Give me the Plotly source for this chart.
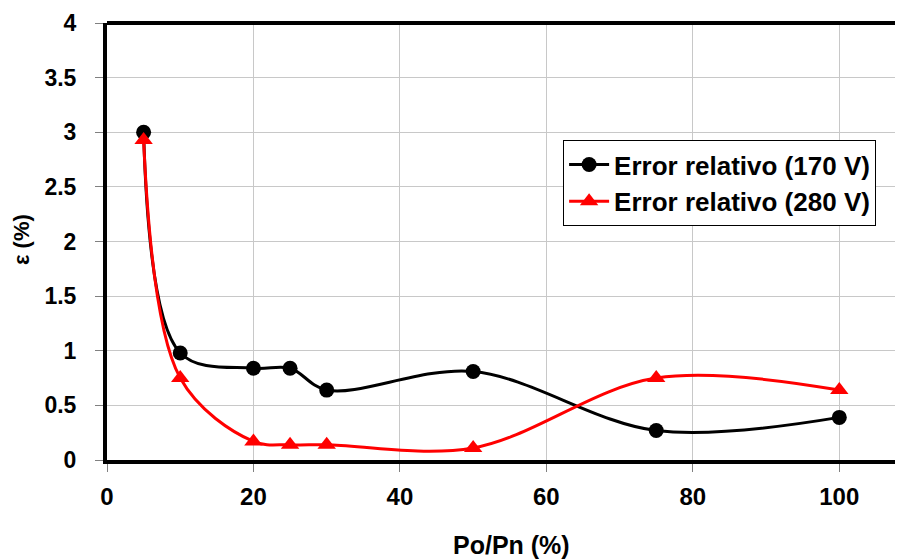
import plotly.graph_objects as go

x_vals = [5, 10, 20, 25, 30, 50, 75, 100]
err_170 = [3.0, 0.98, 0.84, 0.84, 0.64, 0.81, 0.27, 0.39]
err_280 = [2.93, 0.75, 0.17, 0.14, 0.14, 0.11, 0.75, 0.64]
x_ticks = [0, 20, 40, 60, 80, 100]
y_ticks = [0, 0.5, 1, 1.5, 2, 2.5, 3, 3.5, 4]
y_labels = ["0", "0.5", "1", "1.5", "2", "2.5", "3", "3.5", "4"]

font = "Liberation Sans, Arial, sans-serif"

fig = go.Figure()
fig.add_trace(go.Scatter(
    x=x_vals, y=err_170, name="<b>Error relativo (170 V)</b>",
    mode="lines+markers",
    line=dict(color="black", width=3, shape="spline", smoothing=1),
    marker=dict(symbol="circle", size=15, color="black"),
))
fig.add_trace(go.Scatter(
    x=x_vals, y=err_280, name="<b>Error relativo (280 V)</b>",
    mode="lines+markers",
    line=dict(color="red", width=3, shape="spline", smoothing=1),
    marker=dict(symbol="triangle-up", size=16, color="red"),
))

fig.update_layout(
    width=895, height=552,
    margin=dict(l=99, r=0, t=15, b=100),
    paper_bgcolor="white", plot_bgcolor="white",
    font=dict(family=font, color="black"),
    showlegend=True,
    legend=dict(
        x=0.573, y=0.732, xanchor="left", yanchor="top",
        bordercolor="black", borderwidth=1, bgcolor="white",
        font=dict(size=26, family=font, color="black"),
        tracegroupgap=0, itemwidth=40,
    ),
    xaxis=dict(
        range=[0, 108.7], tickvals=x_ticks, ticktext=[f"<b>{t}</b>" for t in x_ticks],
        showgrid=True, gridcolor="#c8c8c8", gridwidth=1,
        showline=True, linecolor="black", linewidth=4,
        ticks="outside", ticklen=8, tickcolor="#808080", tickwidth=1,
        tickfont=dict(size=24, family=font, color="black"),
        ticklabelstandoff=4, ticklabeloverflow="allow",
        automargin=False, zeroline=False,
    ),
    yaxis=dict(
        range=[0, 4], tickvals=y_ticks, ticktext=[f"<b>{t}</b>" for t in y_labels],
        showgrid=True, gridcolor="#c8c8c8", gridwidth=1,
        showline=True, linecolor="black", linewidth=4,
        ticks="outside", ticklen=8, tickcolor="#808080", tickwidth=1,
        tickfont=dict(size=23, family=font, color="black"),
        ticklabelstandoff=14, ticklabeloverflow="allow",
        automargin=False, zeroline=False,
    ),
)
fig.add_shape(type="line", xref="paper", yref="paper", x0=0, x1=1, y0=1, y1=1,
              line=dict(color="black", width=4))
fig.add_annotation(text="<b>Po/Pn (%)</b>", xref="paper", yref="paper",
                   x=(512 - 107) / 796, y=-(545 - 460) / 437,
                   xanchor="center", yanchor="middle", showarrow=False,
                   font=dict(size=25, family=font, color="black"))
fig.add_annotation(text="<b>ε (%)</b>", xref="paper", yref="paper",
                   x=-(107 - 22) / 796, y=(460 - 240) / 437, textangle=-90,
                   xanchor="center", yanchor="middle", showarrow=False,
                   font=dict(size=22, family=font, color="black"))

fig.write_html("out.html")
